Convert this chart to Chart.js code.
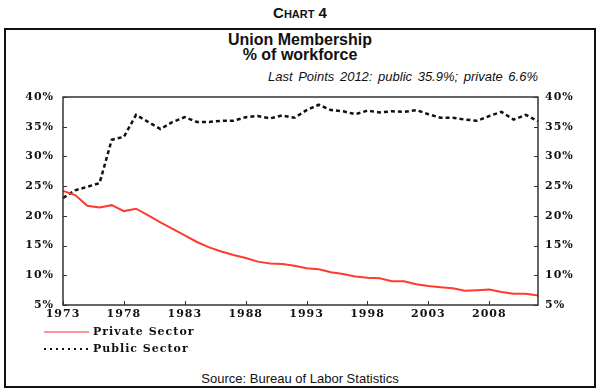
<!DOCTYPE html>
<html>
<head>
<meta charset="utf-8">
<script src="https://cdn.jsdelivr.net/npm/chart.js@4.4.1/dist/chart.umd.min.js"></script>
<style>
  body { margin: 0; background: #fff; }
  #wrap { position: relative; width: 600px; height: 392px; overflow: hidden; }
  #frame { position: absolute; left: 4px; top: 28px; width: 592px; height: 360px; border: 2px solid #111; box-sizing: border-box; }
  .t { position: absolute; left: 0; width: 600px; text-align: center; font-family: "Liberation Sans", Arial, sans-serif; color: #111; white-space: nowrap; }
  #head { top: 4px; font-weight: bold; font-size: 15px; font-variant: small-caps; }
  #title { top: 32px; font-weight: bold; font-size: 16px; line-height: 15px; }
  #note { top: 69px; left: auto; right: 62px; width: auto; text-align: right; font-style: italic; font-size: 13px; word-spacing: 2px; }
  #source { top: 371px; font-size: 13px; }
  canvas { position: absolute; left: 0; top: 0; }
</style>
</head>
<body>
<div id="wrap">
  <div id="frame"></div>
  <div class="t" id="head">Chart 4</div>
  <div class="t" id="title">Union Membership<br>% of workforce</div>
  <div class="t" id="note">Last Points 2012: public 35.9%; private 6.6%</div>
  <div class="t" id="source">Source: Bureau of Labor Statistics</div>
  <canvas id="myChartLine" width="600" height="392"></canvas>
</div>
<script>
// years 1973 - 2012
const years = [];
for (let y = 1973; y <= 2012; y++) years.push(String(y));

// union membership, % of workforce
const privateSector = [24.2, 23.5, 21.7, 21.4, 21.8, 20.8, 21.2, 20.1, 18.9, 17.8,
  16.7, 15.6, 14.7, 14.0, 13.4, 12.9, 12.3, 12.0, 11.9, 11.6,
  11.2, 11.0, 10.5, 10.2, 9.8, 9.6, 9.5, 9.0, 9.0, 8.5,
  8.2, 8.0, 7.8, 7.4, 7.5, 7.6, 7.2, 6.9, 6.9, 6.6];
const publicSector = [23.0, 24.3, 24.9, 25.5, 32.8, 33.3, 37.0, 35.8, 34.6, 35.8,
  36.6, 35.8, 35.8, 36.0, 36.0, 36.6, 36.8, 36.4, 36.9, 36.5,
  37.8, 38.7, 37.8, 37.6, 37.1, 37.7, 37.4, 37.6, 37.5, 37.8,
  37.1, 36.5, 36.5, 36.2, 36.0, 36.8, 37.5, 36.2, 37.0, 35.9];

const yMin = 5, yMax = 40, yStep = 5;
const labelEvery = 5;

const tickFont = { family: 'DejaVu Serif', size: 11, weight: 'bold' };

// wider letter spacing like the original serif labels
const spacing = {
  id: 'spacing',
  beforeUpdate(chart) { chart.ctx.letterSpacing = '1px'; },
  beforeDraw(chart) { chart.ctx.letterSpacing = '1px'; }
};

// box around plot + inside tick marks + legend below plot
const decorations = {
  id: 'decorations',
  afterDraw(chart) {
    const { ctx, chartArea: a, scales } = chart;
    ctx.save();
    ctx.strokeStyle = '#333';
    ctx.lineWidth = 1.5;
    ctx.strokeRect(a.left, a.top, a.right - a.left, a.bottom - a.top);
    ctx.lineWidth = 1;
    ctx.beginPath();
    scales.y.ticks.forEach(t => {
      const py = Math.round(scales.y.getPixelForValue(t.value)) + 0.5;
      ctx.moveTo(a.left, py); ctx.lineTo(a.left + 4, py);
      ctx.moveTo(a.right - 4, py); ctx.lineTo(a.right, py);
    });
    years.forEach((yr, i) => {
      if (i % labelEvery) return;
      const px = Math.round(scales.x.getPixelForValue(i)) + 0.5;
      ctx.moveTo(px, a.bottom); ctx.lineTo(px, a.bottom - 4);
    });
    ctx.stroke();

    // legend
    ctx.font = 'bold 11px "DejaVu Serif"';
    ctx.fillStyle = '#111';
    ctx.textBaseline = 'middle';
    const rows = [
      { y: 332, dash: [], w: 1.5, c: '#ff7070' },
      { y: 349, dash: [2, 4], w: 2, c: '#111' }
    ];
    chart.data.datasets.forEach((ds, i) => {
      const r = rows[i];
      ctx.beginPath();
      ctx.setLineDash(r.dash);
      ctx.strokeStyle = r.c;
      ctx.lineWidth = r.w;
      ctx.moveTo(44, r.y); ctx.lineTo(89, r.y);
      ctx.stroke();
      ctx.setLineDash([]);
      ctx.fillText(ds.label, 93, r.y);
    });
    ctx.restore();
  }
};

const ctx = document.getElementById('myChartLine');
new Chart(ctx, {
  type: 'line',
  data: {
    labels: years,
    datasets: [{
      label: 'Private Sector',
      data: privateSector,
      borderColor: '#ff3a2e',
      borderWidth: 2,
      pointRadius: 0,
      tension: 0,
      yAxisID: 'y'
    },
    {
      label: 'Public Sector',
      data: publicSector,
      borderColor: '#111',
      borderWidth: 2.5,
      borderDash: [4, 3],
      pointRadius: 0,
      tension: 0,
      yAxisID: 'y'
    }]
  },
  options: {
    responsive: false,
    animation: false,
    layout: { padding: { left: 0, right: 0, top: 97, bottom: 67 } },
    plugins: { legend: { display: false }, tooltip: { enabled: false } },
    scales: {
      x: {
        offset: false,
        grid: { display: false, drawTicks: false },
        border: { display: false },
        ticks: {
          autoSkip: false,
          maxRotation: 0,
          padding: 3,
          color: '#111',
          font: tickFont,
          callback: (v, i) => (i % labelEvery === 0 ? years[i] : '')
        },
        afterFit: s => { s.height = 20; }
      },
      y: {
        position: 'left',
        min: yMin, max: yMax,
        grid: { display: false, drawTicks: false },
        border: { display: false },
        ticks: { stepSize: yStep, padding: 9, color: '#111', font: tickFont, callback: v => v + '%' },
        afterFit: s => { s.width = 63; }
      },
      y2: {
        position: 'right',
        min: yMin, max: yMax,
        grid: { display: false, drawTicks: false },
        border: { display: false },
        ticks: { stepSize: yStep, padding: 7, color: '#111', font: tickFont, callback: v => v + '%' },
        afterFit: s => { s.width = 62; }
      }
    }
  },
  plugins: [spacing, decorations]
});
</script>
</body>
</html>
